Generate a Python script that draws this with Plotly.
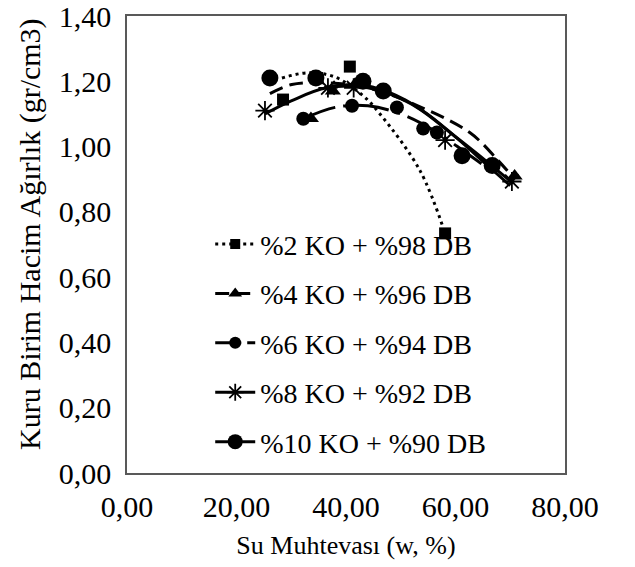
import plotly.graph_objects as go

FONT = "Liberation Serif, Times New Roman, serif"

names = ["%2 KO + %98 DB", "%4 KO + %96 DB", "%6 KO + %94 DB", "%8 KO + %92 DB", "%10 KO + %90 DB"]

# measured points
x2 = [28.5, 34.7, 40.7, 58.1]
y2 = [1.144, 1.21, 1.245, 0.734]
x4 = [33.6, 37.6, 41.6, 70.8]
y4 = [1.086, 1.17, 1.19, 0.91]
x6 = [32.2, 41.1, 49.3, 54.1, 56.6]
y6 = [1.085, 1.125, 1.12, 1.055, 1.043]
x8 = [25.2, 36.7, 41.4, 58.1, 70.3]
y8 = [1.11, 1.18, 1.18, 1.02, 0.893]
x10 = [26.1, 34.5, 43.1, 46.8, 61.2, 66.7]
y10 = [1.21, 1.21, 1.20, 1.17, 0.972, 0.942]

# trendlines
tx2 = [28.3, 33, 38, 43.1, 46.2, 53.5, 58.1]
ty2 = [1.21, 1.226, 1.213, 1.156, 1.10, 0.927, 0.734]
tx4 = [26.1, 30.1, 36.8, 44, 52.4, 62.6, 67.8, 70.8]
ty4 = [1.162, 1.19, 1.195, 1.18, 1.13, 1.043, 0.957, 0.90]
tx6 = [32.2, 38, 44, 50, 56, 62, 67]
ty6 = [1.085, 1.12, 1.125, 1.10, 1.05, 0.98, 0.92]
tx8 = [25.2, 30, 36.5, 44, 52, 60, 66, 70.3]
ty8 = [1.10, 1.14, 1.18, 1.18, 1.13, 1.03, 0.95, 0.89]
tx10 = [36, 42, 48, 54, 60, 66, 70]
ty10 = [1.18, 1.19, 1.165, 1.11, 1.03, 0.94, 0.88]

xticks = [0, 20, 40, 60, 80]
xtext = ["0,00", "20,00", "40,00", "60,00", "80,00"]
yticks = [0, 0.2, 0.4, 0.6, 0.8, 1.0, 1.2, 1.4]
ytext = ["0,00", "0,20", "0,40", "0,60", "0,80", "1,00", "1,20", "1,40"]

series = [
    (x2, y2, tx2, ty2, "square", 12, "3px,4px"),
    (x4, y4, tx4, ty4, "triangle-up", 14, "14px,7px"),
    (x6, y6, tx6, ty6, "circle", 14, "34px,8px,4px,8px"),
    (x8, y8, tx8, ty8, "asterisk-open", 16, "solid"),
    (x10, y10, tx10, ty10, "circle", 17, "solid"),
]

fig = go.Figure()
for i, (xs, ys, txs, tys, sym, sz, dash) in enumerate(series):
    mk = dict(symbol=sym, size=sz, color="black")
    if sym.endswith("open"):
        mk["line"] = dict(color="black", width=1.8)
    fig.add_trace(go.Scatter(x=txs, y=tys, mode="lines", line=dict(color="black", width=3, dash=dash, shape="spline"),
                             showlegend=False, hoverinfo="skip"))
    fig.add_trace(go.Scatter(x=xs, y=ys, mode="markers", marker=mk, showlegend=False))
    lmk = dict(mk)
    lmk["size"] = sz - 2
    ldash = "16px,6px,4px,6px" if dash.startswith("34") else dash
    fig.add_trace(go.Scatter(x=[None], y=[None], mode="lines+markers", name=names[i],
                             line=dict(color="black", width=3, dash=ldash), marker=lmk,
                             legendgroup=f"g{i}", showlegend=True))

fig.update_layout(
    width=635, height=567,
    margin=dict(l=127, r=70, t=16, b=94, autoexpand=False),
    paper_bgcolor="white", plot_bgcolor="white",
    font=dict(family=FONT, size=28, color="black"),
    showlegend=True,
    legend=dict(x=0.19, y=0.555, xanchor="left", yanchor="top", bgcolor="rgba(0,0,0,0)",
                font=dict(family=FONT, size=28, color="black"), tracegroupgap=10, itemwidth=40),
    xaxis=dict(range=[0, 80], tickvals=xticks, ticktext=xtext, showgrid=False, zeroline=False,
               showline=True, linecolor="#595959", linewidth=1.5, mirror=True, ticks="",
               ticklabelstandoff=6, automargin=False, tickfont=dict(family=FONT, size=30),
               ticklabeloverflow="allow",
               title=dict(text="Su Muhtevası (w, %)", font=dict(family=FONT, size=26), standoff=14)),
    yaxis=dict(range=[0, 1.4], tickvals=yticks, ticktext=ytext, showgrid=False, zeroline=False,
               showline=True, linecolor="#595959", linewidth=1.5, mirror=True, ticks="",
               ticklabelstandoff=8, automargin=False, tickfont=dict(family=FONT, size=30),
               ticklabeloverflow="allow"),
    annotations=[dict(text="Kuru Birim Hacim Ağırlık (gr/cm3)", textangle=-90, xref="paper", yref="paper",
                      x=-0.2215, y=0.523, xanchor="center", yanchor="middle", showarrow=False,
                      font=dict(family=FONT, size=30, color="black"))],
)

fig.write_html("out.html")
